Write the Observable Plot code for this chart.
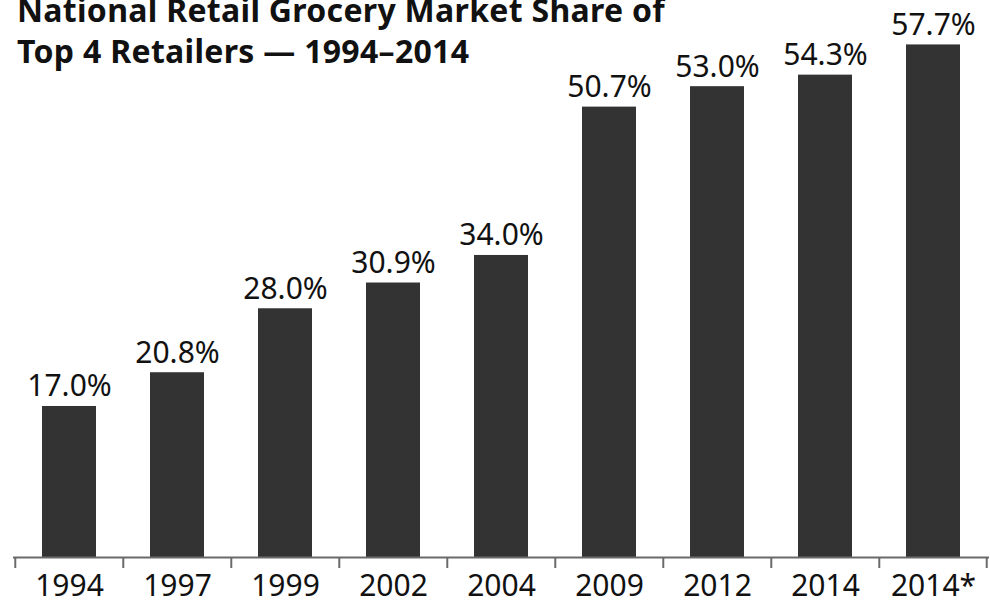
<!DOCTYPE html>
<html>
<head>
<meta charset="utf-8">
<script src="https://cdn.jsdelivr.net/npm/d3@7"></script>
<script src="https://cdn.jsdelivr.net/npm/@observablehq/plot@0.6"></script>
<style>
  html, body { margin: 0; padding: 0; background: #fff; }
  #wrap { position: relative; width: 990px; height: 604px; overflow: hidden; }
  #title { position: absolute; left: 17px; top: -11px; font-family: "Noto Sans", sans-serif; font-weight: 700; font-size: 32px; line-height: 41px; letter-spacing: 0.3px; color: #111; z-index: 2; white-space: nowrap; }
  #chart { position: absolute; left: 0; top: 0; }
</style>
</head>
<body>
<div id="wrap">
  <div id="title">National Retail Grocery Market Share of<br>Top 4 Retailers — 1994–2014</div>
  <div id="chart"></div>
</div>
<script>
const categories = ["1994", "1997", "1999", "2002", "2004", "2009", "2012", "2014", "2014*"];
const shares = [17.0, 20.8, 28.0, 30.9, 34.0, 50.7, 53.0, 54.3, 57.7];
const labels = ["17.0%", "20.8%", "28.0%", "30.9%", "34.0%", "50.7%", "53.0%", "54.3%", "57.7%"];

const data = categories.map((c, i) => ({year: c, share: shares[i], label: labels[i]}));

const W = 990, H = 604, mL = 13, mR = 1;
const step = (W - mL - mR) / categories.length;

const plot = Plot.plot({
  width: W,
  height: H,
  marginLeft: mL,
  marginRight: mR,
  marginTop: 24,
  marginBottom: 47,
  style: {fontFamily: "'Noto Sans', sans-serif", fontSize: "30px", color: "#111", background: "transparent"},
  x: {domain: categories, paddingInner: 0.5, paddingOuter: 0.25, label: null},
  y: {domain: [0, 60], axis: null},
  marks: [
    Plot.barY(data, {x: "year", y: "share", fill: "#333333"}),
    Plot.text(data, {x: "year", y: "share", text: "label", lineAnchor: "bottom", dy: -10, fill: "#111", fontSize: 30}),
    Plot.ruleY([0], {stroke: "#6a6a6a", strokeWidth: 2}),
    Plot.axisX({tickSize: 0, tickPadding: 17, fontSize: 30, label: null}),
    Plot.axisX({ticks: categories, tickSize: 11, tickFormat: () => "", dx: -step / 2, stroke: "#6a6a6a", strokeWidth: 2, label: null}),
    Plot.axisX({ticks: [categories[categories.length - 1]], tickSize: 11, tickFormat: () => "", dx: step / 2 - 1, stroke: "#6a6a6a", strokeWidth: 2, label: null})
  ]
});
document.getElementById("chart").appendChild(plot);
</script>
</body>
</html>
